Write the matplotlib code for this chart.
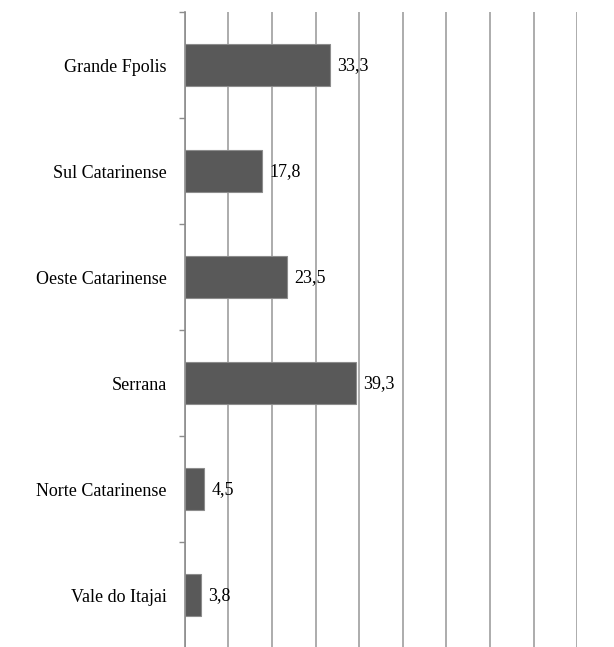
import numpy as np
import matplotlib.pyplot as plt
from matplotlib.ticker import MultipleLocator

regions = ["Grande Fpolis", "Sul Catarinense", "Oeste Catarinense",
           "Serrana", "Norte Catarinense", "Vale do Itajai"]
values = [33.3, 17.8, 23.5, 39.3, 4.5, 3.8]
labels = ["33,3", "17,8", "23,5", "39,3", "4,5", "3,8"]

plt.rcParams["font.family"] = ["Liberation Serif", "DejaVu Serif"]

fig = plt.figure(figsize=(6.14, 6.47), dpi=100)
ax = fig.add_axes([0.301, -0.002, 0.639, 0.983])

y = np.arange(len(regions))
ax.barh(y, values, height=0.4, color="#595959", edgecolor="#8c8c8c",
        linewidth=0.8, zorder=3)
for yi, v, lab in zip(y, values, labels):
    ax.annotate(lab, (v, yi), xytext=(5, 0), textcoords="offset points",
                va="center", ha="left", fontsize=13, zorder=4)

ax.set_xlim(0, 90)
ax.set_ylim(len(regions) - 0.5, -0.5)
ax.set_yticks(y)
ax.set_yticklabels(regions, fontsize=13)
ax.yaxis.set_minor_locator(MultipleLocator(1, offset=0.5))
ax.tick_params(axis="y", which="major", length=0, pad=13)
ax.tick_params(axis="y", which="minor", length=4, color="#8c8c8c", width=1)
ax.xaxis.set_major_locator(MultipleLocator(10))
ax.tick_params(axis="x", length=0, labelbottom=False)
ax.grid(True, axis="x", color="#a6a6a6", linewidth=1.3, zorder=0)

for side in ["top", "right", "bottom"]:
    ax.spines[side].set_visible(False)
ax.spines["left"].set_color("#8c8c8c")
ax.spines["left"].set_linewidth(1.2)

fig.savefig("out.png", dpi=100)
